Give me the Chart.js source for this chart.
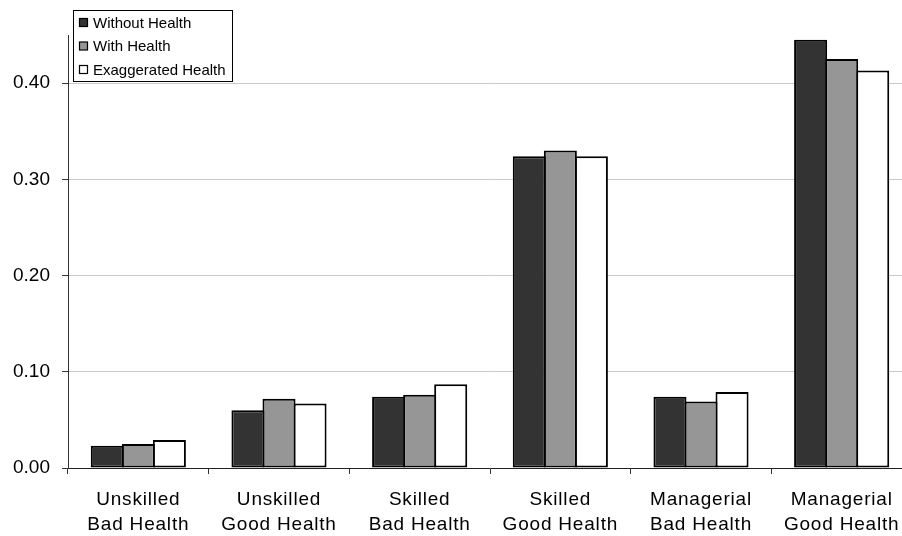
<!DOCTYPE html>
<html>
<head>
<meta charset="utf-8">
<script src="https://cdn.jsdelivr.net/npm/chart.js@4/dist/chart.umd.min.js"></script>
<style>
  html, body { margin: 0; padding: 0; background: #fff; overflow: hidden; }
  #wrap { position: relative; width: 912px; height: 536px; }
</style>
</head>
<body>
<div id="wrap"><canvas id="c"></canvas></div>
<script>
// Occupation / health categories (two-line axis labels)
const categories = [
  ['Unskilled', 'Bad Health'],
  ['Unskilled', 'Good Health'],
  ['Skilled', 'Bad Health'],
  ['Skilled', 'Good Health'],
  ['Managerial', 'Bad Health'],
  ['Managerial', 'Good Health']
];
const seriesNames = ['Without Health', 'With Health', 'Exaggerated Health'];
const withoutHealth     = [0.023, 0.060, 0.074, 0.324, 0.074, 0.445];
const withHealth        = [0.025, 0.072, 0.076, 0.330, 0.069, 0.425];
const exaggeratedHealth = [0.029, 0.067, 0.087, 0.324, 0.079, 0.413];
const yTicks = [0, 0.1, 0.2, 0.3, 0.4];

const fills = ['#333333', '#969696', '#ffffff'];
const FONT = 'Liberation Sans, Arial, sans-serif';

// Legend box drawn inside the plot area, top-left
const boxLegend = {
  id: 'boxLegend',
  afterDraw(chart) {
    const ctx = chart.ctx;
    const x = 73.5, y = 10.5, w = 159, h = 71;
    ctx.save();
    ctx.fillStyle = '#fff';
    ctx.strokeStyle = '#000';
    ctx.lineWidth = 1;
    ctx.fillRect(x, y, w, h);
    ctx.strokeRect(x, y, w, h);
    ctx.font = '15px ' + FONT;
    ctx.textBaseline = 'middle';
    chart.data.datasets.forEach((ds, i) => {
      const cy = 22.5 + i * 23.5;
      ctx.fillStyle = ds.backgroundColor;
      ctx.fillRect(79.5, cy - 4, 8, 8);
      ctx.strokeStyle = '#000';
      ctx.lineWidth = 1.2;
      ctx.strokeRect(79.5, cy - 4, 8, 8);
      ctx.fillStyle = '#000';
      ctx.fillText(ds.label, 93, cy + 1);
    });
    ctx.restore();
  }
};

// Slightly wider letter spacing for the category labels
const spacedXLabels = {
  id: 'spacedXLabels',
  afterLayout(chart) {
    const s = chart.scales.x;
    if (!s || s._spaced) return;
    const orig = s.drawLabels.bind(s);
    s.drawLabels = function (area) {
      const ctx = this.ctx;
      ctx.save();
      ctx.letterSpacing = '0.8px';
      orig(area);
      ctx.restore();
    };
    s._spaced = true;
  }
};

const seriesValues = [withoutHealth, withHealth, exaggeratedHealth];

new Chart(document.getElementById('c'), {
  type: 'bar',
  data: {
    labels: categories,
    datasets: seriesNames.map((name, i) => ({
      label: name,
      data: seriesValues[i],
      backgroundColor: fills[i],
      borderColor: '#000',
      borderWidth: 2,
      borderSkipped: false,
      categoryPercentage: 0.662,
      barPercentage: 1.065
    }))
  },
  options: {
    responsive: true,
    maintainAspectRatio: false,
    animation: false,
    layout: { padding: { top: 35, right: 0, left: 0, bottom: 0 } },
    plugins: {
      legend: { display: false },
      tooltip: { enabled: false }
    },
    scales: {
      x: {
        offset: true,
        grid: { display: true, drawOnChartArea: false, tickLength: 6, tickColor: '#333', offset: true },
        border: { color: '#222', width: 1 },
        ticks: {
          color: '#000',
          font: { family: FONT, size: 19, lineHeight: 1.33 },
          padding: 13,
          maxRotation: 0,
          autoSkip: false
        },
        afterFit(axis) { axis.height = 68; }
      },
      y: {
        min: 0,
        max: 0.45,
        grid: { color: '#c8c8c8', lineWidth: 1, tickLength: 6, tickColor: '#333' },
        border: { color: '#333', width: 1 },
        ticks: {
          stepSize: 0.1,
          color: '#000',
          font: { family: FONT, size: 19 },
          padding: 12,
          callback: v => v.toFixed(2)
        },
        afterBuildTicks(axis) {
          axis.ticks = yTicks.map(v => ({ value: v }));
        },
        afterFit(axis) { axis.width = 68; }
      }
    }
  },
  plugins: [boxLegend, spacedXLabels]
});
</script>
</body>
</html>
